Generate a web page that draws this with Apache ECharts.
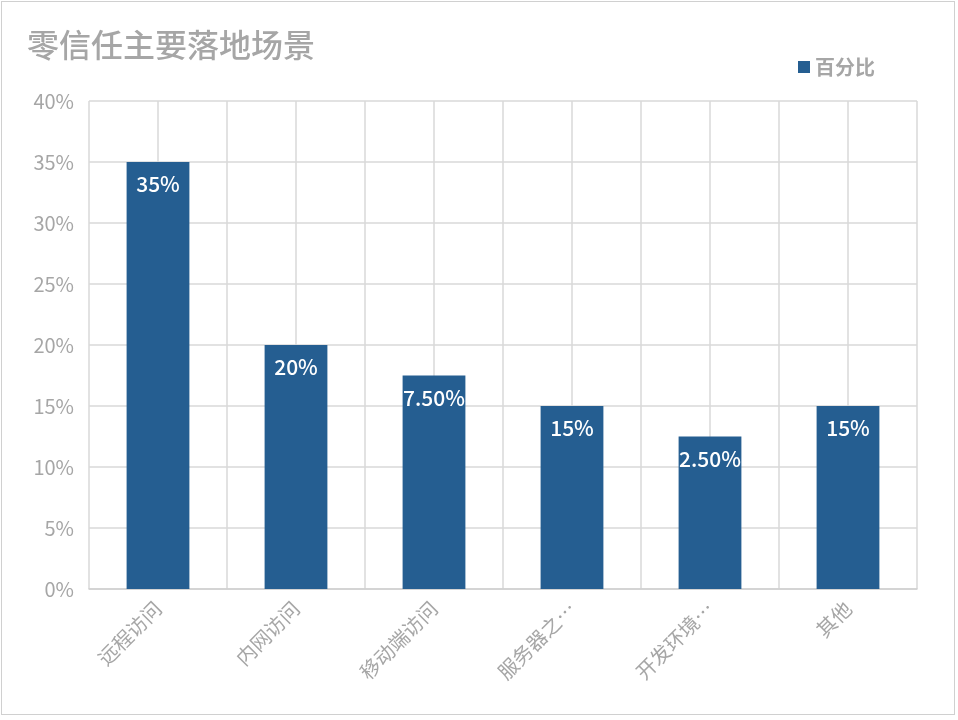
<!DOCTYPE html>
<html><head><meta charset="utf-8">
<script src="https://cdn.jsdelivr.net/npm/echarts@6/dist/echarts.min.js"></script>
<style>
html,body{margin:0;padding:0;background:#fff;}
#c{position:absolute;left:1px;top:1px;width:954px;height:714px;border:1px solid #d0d0d0;box-sizing:border-box;}
</style></head>
<body><div id="c"></div>
<script>
const categories = ['远程访问','内网访问','移动端访问','服务器之…','开发环境…','其他'];
const values = [35, 20, 17.5, 15, 12.5, 15];
const valueLabels = ['35%','20%','7.50%','15%','2.50%','15%'];
const yTicks = [0,5,10,15,20,25,30,35,40];

const chart = echarts.init(document.getElementById('c'));
const font = '"Noto Sans CJK SC", "Noto Sans", sans-serif';
chart.setOption({
  animation:false,
  title:{text:'零信任主要落地场景',left:20,top:22,textStyle:{fontFamily:font,fontSize:32,fontWeight:500,color:'#a6a6a6'}},
  legend:{data:['百分比'],right:74,top:50,itemWidth:12,itemHeight:12,itemGap:8,icon:'rect',textStyle:{fontFamily:font,fontSize:20,fontWeight:'bold',color:'#a6a6a6'}},
  grid:{left:87,right:37,top:99,bottom:125,containLabel:false},
  xAxis:[{
    type:'category',data:categories,
    axisLine:{show:true,lineStyle:{color:'#d0d0d0',width:1.5}},
    axisTick:{show:false},
    splitLine:{show:false},
    axisLabel:{rotate:45,interval:0,fontFamily:font,fontSize:20,color:'#a6a6a6',margin:16}
  },{
    type:'value',min:0,max:12,interval:1,position:'top',
    axisLine:{show:false},axisTick:{show:false},axisLabel:{show:false},
    splitLine:{show:true,lineStyle:{color:'#d9d9d9',width:1.5}}
  }],
  yAxis:{
    type:'value',min:0,max:40,interval:5,
    axisLine:{show:false},axisTick:{show:false},
    axisLabel:{formatter:v=>v+'%',fontFamily:font,fontSize:20,color:'#a6a6a6',margin:15},
    splitLine:{lineStyle:{color:'#d9d9d9',width:1.5}}
  },
  series:[{
    name:'百分比',type:'bar',data:values,barWidth:'45.5%',xAxisIndex:0,
    itemStyle:{color:'#255e91'},
    label:{show:true,position:'insideTop',distance:12,formatter:p=>valueLabels[p.dataIndex],fontFamily:font,fontSize:21,fontWeight:500,color:'#fff'}
  }]
});
</script></body></html>
